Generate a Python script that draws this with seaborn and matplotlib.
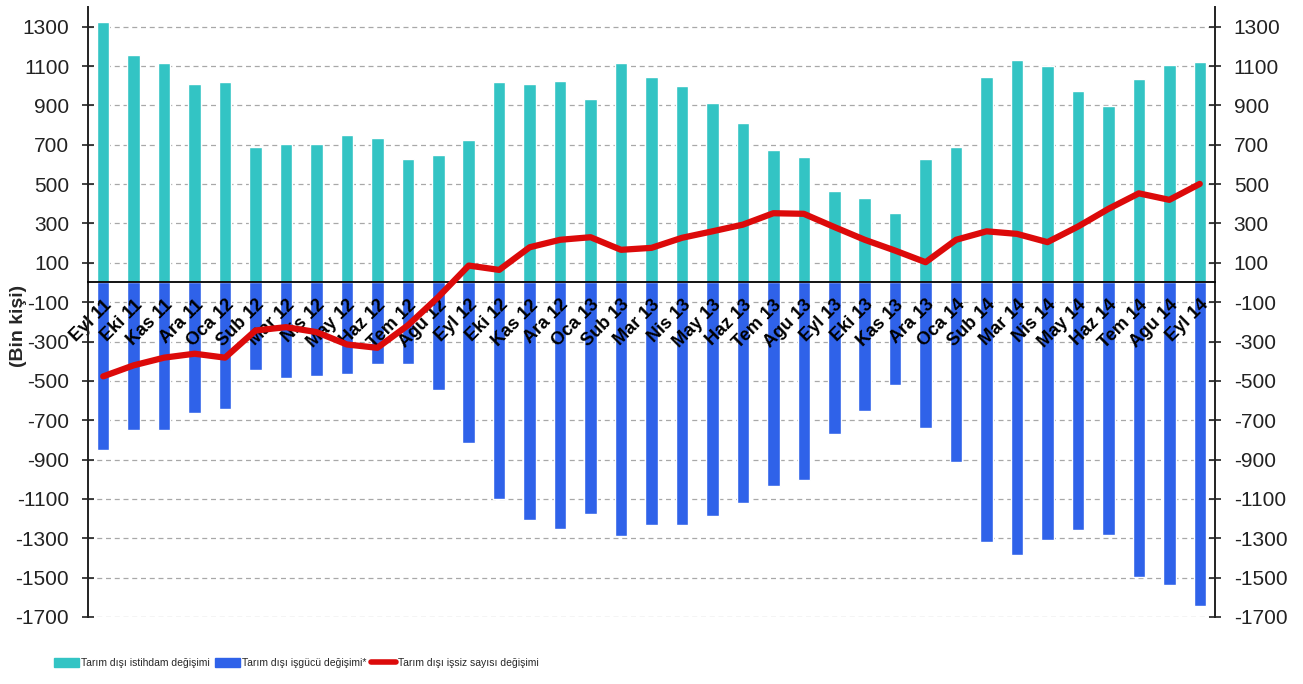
import matplotlib
matplotlib.use('Agg')
import matplotlib.pyplot as plt
import matplotlib.patches as mpatches
import matplotlib.lines as mlines
import numpy as np
import pandas as pd
import seaborn as sns

# Months shown on the x axis (Eyl 11 .. Eyl 14)
months = ['Eyl 11', 'Eki 11', 'Kas 11', 'Ara 11', 'Oca 12', 'Sub 12', 'Mar 12', 'Nis 12',
          'May 12', 'Haz 12', 'Tem 12', 'Agu 12', 'Eyl 12', 'Eki 12', 'Kas 12', 'Ara 12',
          'Oca 13', 'Sub 13', 'Mar 13', 'Nis 13', 'May 13', 'Haz 13', 'Tem 13', 'Agu 13',
          'Eyl 13', 'Eki 13', 'Kas 13', 'Ara 13', 'Oca 14', 'Sub 14', 'Mar 14', 'Nis 14',
          'May 14', 'Haz 14', 'Tem 14', 'Agu 14', 'Eyl 14']

# Tarim disi istihdam degisimi (teal bars)
istihdam = [1325, 1155, 1113, 1010, 1019, 687, 704, 704, 751, 733, 628, 649, 724,
            1017, 1009, 1025, 932, 1113, 1046, 999, 912, 809, 675, 636, 467, 428,
            352, 628, 687, 1046, 1130, 1098, 971, 895, 1036, 1105, 1123]

# Tarim disi isgucu degisimi* (blue bars, drawn below zero)
isgucu = [-853, -751, -751, -663, -645, -443, -484, -474, -465, -416, -416, -548, -817,
          -1101, -1205, -1252, -1178, -1289, -1234, -1234, -1188, -1120, -1036, -1005,
          -768, -655, -519, -738, -912, -1318, -1386, -1310, -1259, -1284, -1499,
          -1538, -1643]

# Tarim disi issiz sayisi degisimi (red line)
issiz = [-477, -421, -382, -362, -382, -244, -227, -252, -315, -332, -218, -74, 86,
         64, 179, 217, 230, 166, 176, 227, 260, 294, 352, 349, 282, 217, 162, 103,
         217, 260, 247, 205, 284, 374, 453, 420, 501]

teal = '#33C4C4'
blue = '#2F62E9'
red = '#DC0A0A'

df = pd.DataFrame({'ay': months, 'istihdam': istihdam, 'isgucu': isgucu,
                   'issiz': issiz, 'pos': np.arange(len(months))})

sns.set_style('white')
plt.rcParams['font.family'] = ['Liberation Sans', 'DejaVu Sans']

fig = plt.figure(figsize=(13.03, 6.84), dpi=100)
ax = fig.add_axes([88 / 1303, 1 - 617 / 684, (1215 - 88) / 1303, (617 - 7) / 684])

# Bars for both series share the same slot
sns.barplot(data=df, x='ay', y='istihdam', order=months, color=teal, saturation=1,
            width=0.41, errorbar=None, ax=ax)
sns.barplot(data=df, x='ay', y='isgucu', order=months, color=blue, saturation=1,
            width=0.41, errorbar=None, ax=ax)
sns.lineplot(data=df, x='pos', y='issiz', color=red, linewidth=4.5, ax=ax,
             zorder=4, solid_joinstyle='round', solid_capstyle='round')

n = len(months)
yticks = np.arange(-1700, 1400, 200)

# spines first (moving a spine resets its ticks)
for s in ['left', 'right']:
    ax.spines[s].set_visible(True)
    ax.spines[s].set_color('#222222')
    ax.spines[s].set_linewidth(1.4)
ax.spines['top'].set_visible(False)
ax.spines['bottom'].set_position(('data', 0))
ax.spines['bottom'].set_color('black')
ax.spines['bottom'].set_linewidth(1.3)

ax.set_xlim(-0.5, n - 0.5)
ax.set_ylim(-1700, 1400)

# dashed grid drawn under the bars
ax.grid(False)
ax.hlines(yticks, -0.5, n - 0.5, colors='#a8a8a8', linestyles=(0, (4, 3)),
          linewidth=0.9, zorder=0.5)

# axis drawn above bars (so month labels show on bars) but below the line
ax.set_axisbelow('line')

ax.set_yticks(yticks)
ax.set_yticklabels([str(v) for v in yticks])
ax.tick_params(axis='y', which='both', left=True, right=True, labelleft=True,
               labelright=True, direction='inout', length=9, width=1.2,
               labelsize=15, pad=9, colors='#222222')

ax.set_xticks(range(n))
ax.set_xticklabels(months, rotation=45, ha='right', rotation_mode='anchor',
                   fontweight='bold', fontsize=13)
ax.tick_params(axis='x', length=0, pad=10, colors='black')

ax.set_xlabel('')
ax.set_ylabel('')
fig.text(0.014, 1 - 326 / 684, '(Bin kişi)', rotation=90, ha='center', va='center',
         fontsize=14, fontweight='bold')

# legend entries placed individually along the bottom
handles = [mpatches.Patch(color=teal), mpatches.Patch(color=blue),
           mlines.Line2D([], [], color=red, linewidth=4)]
texts = ['Tarım dışı istihdam değişimi', 'Tarım dışı işgücü değişimi*',
         'Tarım dışı işsiz sayısı değişimi']
xs = [54, 215, 371]
for h, t, x in zip(handles, texts, xs):
    fig.legend([h], [t], loc='center left', bbox_to_anchor=(x / 1303, 1 - 663 / 684),
               frameon=False, borderpad=0, borderaxespad=0, handlelength=2.4,
               handleheight=1.0, handletextpad=0.15,
               prop={'family': ['Liberation Sans'], 'size': 7.5})

fig.savefig('out.png', dpi=100)
